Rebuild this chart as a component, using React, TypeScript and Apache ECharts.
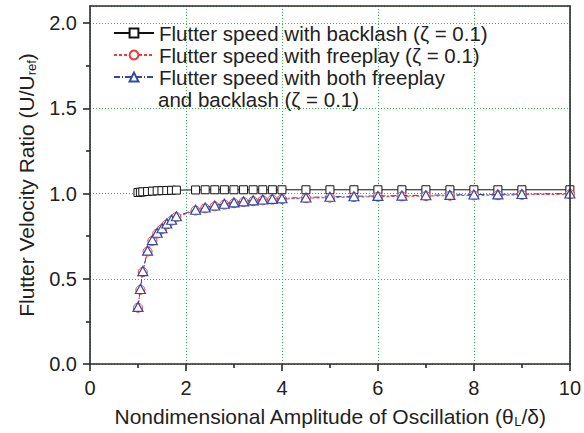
import React, { useEffect, useRef } from "react";
import * as echarts from "echarts";

// ---- data ----
const amplitude = [1.0, 1.05, 1.1, 1.2, 1.3, 1.4, 1.5, 1.6, 1.7, 1.8, 2.2, 2.4, 2.6, 2.8, 3.0, 3.2, 3.4, 3.6, 3.8, 4.0, 4.5, 5.0, 5.5, 6.0, 6.5, 7.0, 7.5, 8.0, 8.5, 9.0, 10.0];
const backlashRatio = [1.006, 1.008, 1.01, 1.012, 1.014, 1.016, 1.017, 1.018, 1.019, 1.02, 1.021, 1.022, 1.022, 1.022, 1.022, 1.022, 1.022, 1.022, 1.022, 1.022, 1.022, 1.022, 1.022, 1.022, 1.022, 1.022, 1.022, 1.022, 1.022, 1.022, 1.022];
const freeplayRatio = [0.33, 0.435, 0.54, 0.66, 0.722, 0.765, 0.791, 0.819, 0.841, 0.862, 0.9, 0.913, 0.925, 0.935, 0.943, 0.95, 0.955, 0.96, 0.964, 0.967, 0.972, 0.976, 0.979, 0.981, 0.983, 0.985, 0.987, 0.989, 0.99, 0.992, 0.996];
const bothRatio = [0.335, 0.44, 0.545, 0.665, 0.727, 0.77, 0.796, 0.824, 0.846, 0.867, 0.905, 0.918, 0.93, 0.94, 0.948, 0.954, 0.96, 0.965, 0.969, 0.972, 0.977, 0.981, 0.984, 0.986, 0.988, 0.99, 0.992, 0.994, 0.995, 0.997, 1.0];

const yMajorTicks = [0, 0.5, 1.0, 1.5, 2.0];
const yMinorTicks = [0.25, 0.75, 1.25, 1.75];

const seriesNames = [
  "Flutter speed with backlash (ζ = 0.1)",
  "Flutter speed with freeplay (ζ = 0.1)",
  "Flutter speed with both freeplay\nand backlash (ζ = 0.1)",
];

const FONT = "'Liberation Sans', Arial, Helvetica, sans-serif";
const GREEN = "#2fb64e";
const AXIS = "#2a2a2a";
const TEXT = "#222";
const RED = "#f03a3a";
const BLUE = "#3349a8";

const pairs = (ys: number[]) => amplitude.map((x, i) => [x, ys[i]]);

export default function App() {
  const ref = useRef<HTMLDivElement>(null);
  useEffect(() => {
    if (!ref.current) return;
    const chart = echarts.init(ref.current, undefined, { renderer: "svg" });
    const axisLineStyle = { color: AXIS, width: 1.6 };
    const subRich = {
      sub: { fontSize: 13, fontFamily: FONT, color: TEXT, verticalAlign: "bottom", lineHeight: 13 },
    };
    chart.setOption({
      animation: false,
      backgroundColor: "#fff",
      grid: { left: 90, right: 10, top: 6, bottom: 68.5, containLabel: false },
      xAxis: [
        {
          type: "value", min: 0, max: 10, interval: 2, position: "bottom", z: 0,
          axisLine: { show: false }, axisTick: { show: false }, axisLabel: { show: false },
          splitLine: { show: true, lineStyle: { color: GREEN, width: 1, type: [1, 2] } },
        },
        {
          type: "value", min: 0, max: 10, interval: 2, position: "bottom", z: 5,
          axisLine: { show: true, onZero: false, lineStyle: axisLineStyle },
          axisTick: { show: true, inside: false, length: 7, lineStyle: axisLineStyle },
          minorTick: { show: true, splitNumber: 2, length: 4, lineStyle: axisLineStyle },
          axisLabel: { fontSize: 20, color: TEXT, fontFamily: FONT, margin: 14 },
          splitLine: { show: false },
          name: "Nondimensional Amplitude of Oscillation (θ{sub|L}/δ)",
          nameLocation: "middle",
          nameGap: 40,
          nameTextStyle: { fontSize: 21, color: TEXT, fontFamily: FONT, lineHeight: 24, rich: subRich },
        },
        {
          type: "value", min: 0, max: 10, position: "top", z: 5,
          axisLine: { show: true, onZero: false, lineStyle: axisLineStyle },
          axisTick: { show: false }, axisLabel: { show: false }, splitLine: { show: false },
        },
      ],
      yAxis: [
        {
          type: "value", min: 0, max: 2.1, interval: 0.5, position: "left", z: 0,
          axisLine: { show: false }, axisTick: { show: false }, axisLabel: { show: false },
          splitLine: { show: true, lineStyle: { color: GREEN, width: 1, type: [1, 2] } },
        },
        {
          type: "value", min: 0, max: 2.1, interval: 0.5, position: "left", z: 5,
          axisLine: { show: true, onZero: false, lineStyle: axisLineStyle },
          axisTick: { show: true, inside: false, length: 7, lineStyle: axisLineStyle, customValues: yMajorTicks },
          axisLabel: {
            fontSize: 20, color: TEXT, fontFamily: FONT, margin: 13,
            customValues: yMajorTicks,
            formatter: (v: number) => v.toFixed(1),
          },
          splitLine: { show: false },
          name: "Flutter Velocity Ratio (U/U{sub|ref})",
          nameLocation: "middle",
          nameGap: 50,
          nameTextStyle: { fontSize: 21, color: TEXT, fontFamily: FONT, lineHeight: 24, rich: subRich },
        },
        {
          type: "value", min: 0, max: 2.1, interval: 0.5, position: "left", z: 5,
          axisLine: { show: false },
          axisTick: { show: true, inside: false, length: 4, lineStyle: axisLineStyle, customValues: yMinorTicks },
          axisLabel: { show: false }, splitLine: { show: false },
        },
        {
          type: "value", min: 0, max: 2.1, position: "right", z: 5,
          axisLine: { show: true, onZero: false, lineStyle: axisLineStyle },
          axisTick: { show: false }, axisLabel: { show: false }, splitLine: { show: false },
        },
      ],
      legend: {
        orient: "vertical",
        left: 113,
        top: 22,
        padding: 0,
        itemGap: 0,
        itemWidth: 40,
        itemHeight: 11,
        selectedMode: false,
        data: seriesNames,
        formatter: (name: string) => name.split("\n")[0],
        textStyle: { fontSize: 20.5, lineHeight: 22, color: TEXT, fontFamily: FONT },
      },
      graphic: [
        {
          type: "text",
          left: 158,
          top: 88,
          style: { text: "and backlash (ζ = 0.1)", fontSize: 20.5, fontFamily: FONT, fill: TEXT, lineHeight: 22 },
        },
      ],
      series: [
        {
          name: seriesNames[0], type: "line", xAxisIndex: 0, yAxisIndex: 0, z: 2,
          data: pairs(backlashRatio),
          symbol: "rect", symbolSize: 8,
          color: "#111",
          lineStyle: { color: "#111", width: 1 },
          itemStyle: { color: "#fff", borderColor: "#111", borderWidth: 1 },
        },
        {
          name: seriesNames[1], type: "line", xAxisIndex: 0, yAxisIndex: 0, z: 3,
          data: pairs(freeplayRatio),
          symbol: "circle", symbolSize: 9,
          color: RED,
          lineStyle: { color: RED, width: 1, type: [3, 2] },
          itemStyle: { color: "#fff", borderColor: RED, borderWidth: 1 },
        },
        {
          name: seriesNames[2], type: "line", xAxisIndex: 0, yAxisIndex: 0, z: 4,
          data: pairs(bothRatio),
          symbol: "triangle", symbolSize: [10, 9],
          color: BLUE,
          lineStyle: { color: BLUE, width: 1, type: [6, 2, 1, 2] },
          itemStyle: { color: "#fff", borderColor: BLUE, borderWidth: 1.2 },
        },
      ],
    });
    return () => chart.dispose();
  }, []);
  return <div ref={ref} style={{ width: 584, height: 433, position: "absolute", left: 0, top: 0 }} />;
}
